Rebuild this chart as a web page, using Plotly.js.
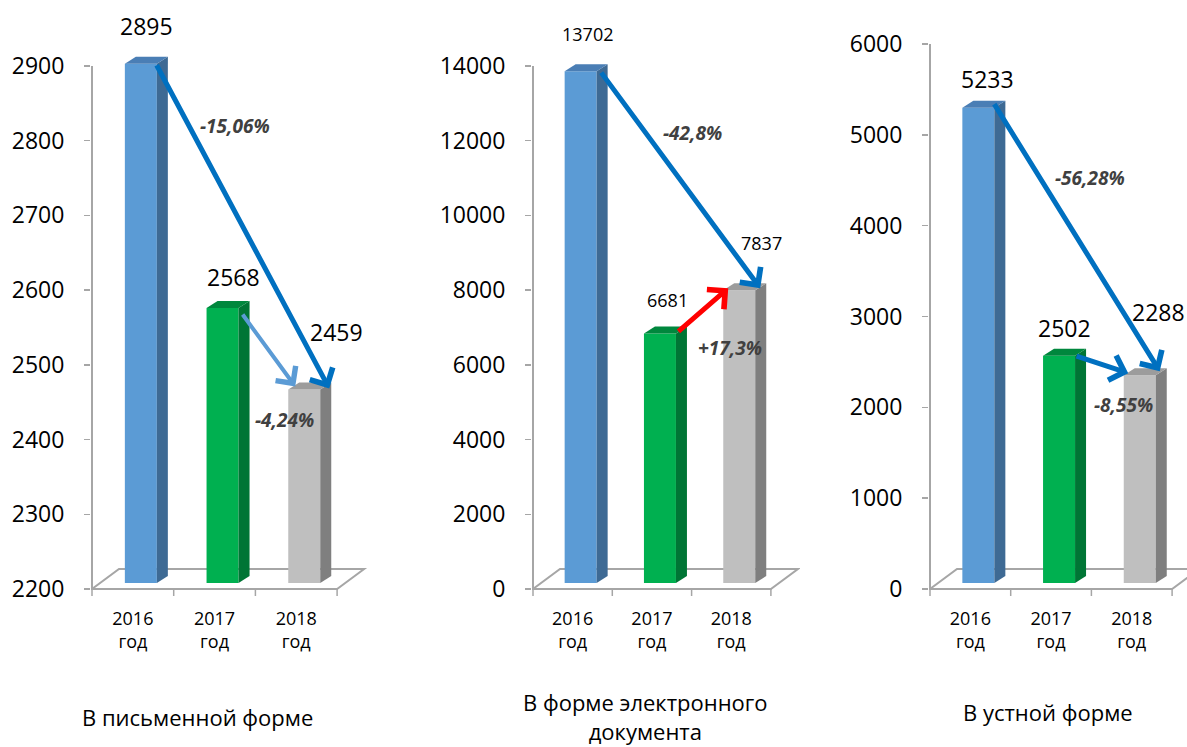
<!DOCTYPE html>
<html><head><meta charset="utf-8">
<script src="https://cdn.plot.ly/plotly-3.0.1.min.js"></script>
<style>html,body{margin:0;padding:0;background:#fff;}#chart{width:1187px;height:747px;}</style>
</head><body><div id="chart"></div>
<script>
// ---------- DATA ----------
const categoryLabels = ['2016<br>год', '2017<br>год', '2018<br>год'];
const panelTitles = ['В письменной форме', 'В форме электронного<br>документа', 'В устной форме'];
const writtenValues = [2895, 2568, 2459];
const electronicValues = [13702, 6681, 7837];
const oralValues = [5233, 2502, 2288];
const writtenTicks = [2200, 2300, 2400, 2500, 2600, 2700, 2800, 2900];
const electronicTicks = [0, 2000, 4000, 6000, 8000, 10000, 12000, 14000];
const oralTicks = [0, 1000, 2000, 3000, 4000, 5000, 6000];
const writtenChanges = ['-15,06%', '-4,24%'];
const electronicChanges = ['-42,8%', '+17,3%'];
const oralChanges = ['-56,28%', '-8,55%'];

// ---------- STYLE / GEOMETRY ----------
const W = 1187, H = 747;
const FONT = 'Open Sans, sans-serif';
const frontColors = ['#5B9BD5', '#00B050', '#BFBFBF'];
const sideColors = ['#3E6A94', '#007535', '#7F7F7F'];
const topColors = ['#4A7EB5', '#00873D', '#9C9C9C'];
const gridGray = '#A6A6A6';

const panels = [
  { values: writtenValues, ticks: writtenTicks, changes: writtenChanges, title: panelTitles[0],
    xLeft: 92, catW: 81.7, xRight: 368, yMinPx: 589, yMaxPx: 66, labelFont: 23,
    valOff: [[14, 44], [19, 37], [40, 63]],
    arrows: [{ from: 0, to: 2, t: [23, 6], h: [33, 7], color: '#0070C0', w: 5, size: 1 },
             { from: 1, to: 2, t: [27, 1], h: [-1, 9], color: '#5B9BD5', w: 4, size: 1.2 }],
    pct: [[235, 126], [284, 420]], titlePos: [197, 717] },
  { values: electronicValues, ticks: electronicTicks, changes: electronicChanges, title: panelTitles[1],
    xLeft: 533, catW: 79.3, xRight: 800, yMinPx: 589, yMaxPx: 66, labelFont: 18,
    valOff: [[15, 43], [15.5, 39], [30, 53]],
    arrows: [{ from: 0, to: 2, t: [27.5, 6], h: [29, 8], color: '#0070C0', w: 5, size: 1 },
             { from: 1, to: 2, t: [25, 6.7], h: [-3, 8], color: '#FF0000', w: 5, size: 1 }],
    pct: [[692, 132.5], [730, 348]], titlePos: [645, 716] },
  { values: oralValues, ticks: oralTicks, changes: oralChanges, title: panelTitles[2],
    xLeft: 930, catW: 80.7, xRight: 1187, yMinPx: 589, yMaxPx: 44, labelFont: 23,
    valOff: [[17, 35], [13, 34], [27, 69]],
    arrows: [{ from: 0, to: 2, t: [23, 11], h: [28, 10], color: '#0070C0', w: 5, size: 1 },
             { from: 1, to: 2, t: [24, 6], h: [-3.5, 8], color: '#0070C0', w: 5, size: 1 }],
    pct: [[1089.5, 177.5], [1123, 405]], titlePos: [1048, 712] }
];

const domTop = 20, domBot = 602;
const traces = [], shapes = [], annotations = [];
const layout = {
  width: W, height: H, margin: { l: 0, r: 0, t: 0, b: 0 },
  paper_bgcolor: '#fff', plot_bgcolor: 'rgba(0,0,0,0)',
  showlegend: false, hovermode: false, font: { family: FONT, color: '#000' },
  shapes: shapes, annotations: annotations
};

panels.forEach((p, k) => {
  const sfx = k === 0 ? '' : String(k + 1);
  const xa = 'x' + sfx, ya = 'y' + sfx;
  const tMin = p.ticks[0], tMax = p.ticks[p.ticks.length - 1];
  const upp = (tMax - tMin) / (p.yMinPx - p.yMaxPx);   // data units per pixel (y)
  const cu = 1 / p.catW;                                 // category units per pixel (x)
  const xr = [-0.5 - cu, -0.5 + (p.xRight - p.xLeft) * cu];
  const yr = [tMin - (domBot - p.yMinPx) * upp, tMax + (p.yMaxPx - domTop) * upp];

  layout['xaxis' + sfx] = {
    domain: [(p.xLeft - 1) / W, p.xRight / W], range: xr, anchor: ya, type: 'linear',
    tickvals: [0, 1, 2], ticktext: categoryLabels, ticks: '', showline: false,
    showgrid: false, zeroline: false, fixedrange: true,
    tickfont: { family: FONT, size: 18, color: '#000' }, ticklabelstandoff: 4
  };
  layout['yaxis' + sfx] = {
    domain: [1 - domBot / H, 1 - domTop / H], range: yr, anchor: xa,
    tickvals: p.ticks, ticktext: p.ticks.map(String), ticks: 'outside', ticklen: 6, tickwidth: 1.5,
    tickcolor: gridGray, showline: false, showgrid: false, zeroline: false, fixedrange: true,
    tickfont: { family: FONT, size: 23, color: '#000' }, ticklabelstandoff: 15
  };

  // front faces (bars)
  traces.push({
    type: 'bar', x: [0, 1, 2], y: p.values.map(v => v - tMin), base: tMin + 6 * upp,
    width: 32 * cu, offset: -8 * cu, xaxis: xa, yaxis: ya,
    marker: { color: frontColors, line: { width: 0 } }, hoverinfo: 'skip'
  });

  // floor
  const f0 = tMin, f1 = tMin + 20 * upp;
  shapes.push({ type: 'path', xref: xa, yref: ya, layer: 'below',
    path: `M${-0.5},${f0} L${2.5},${f0} L${2.5 + 27 * cu},${f1} L${-0.5 + 27 * cu},${f1} Z`,
    line: { color: gridGray, width: 2 }, fillcolor: 'rgba(0,0,0,0)' });
  // x tick marks at category boundaries
  [-0.5, 0.5, 1.5, 2.5].forEach(b => shapes.push({ type: 'line', xref: xa, yref: ya,
    x0: b, x1: b, y0: tMin, y1: tMin - 7 * upp, line: { color: gridGray, width: 1.5 } }));
  // y axis line
  shapes.push({ type: 'line', xref: xa, yref: ya, x0: -0.5, x1: -0.5, y0: tMin, y1: tMax,
    line: { color: gridGray, width: 2 } });

  // side & top faces
  p.values.forEach((v, i) => {
    const a = tMin + 6 * upp, b = v + 6 * upp, d = 7 * upp;
    const xr0 = i + 24 * cu, xr1 = i + 35 * cu;
    shapes.push({ type: 'path', xref: xa, yref: ya, layer: 'above', line: { width: 0 },
      fillcolor: sideColors[i],
      path: `M${xr0},${a} L${xr0},${b} L${xr1},${b + d} L${xr1},${a + d} Z` });
    shapes.push({ type: 'path', xref: xa, yref: ya, layer: 'above', line: { width: 0 },
      fillcolor: topColors[i],
      path: `M${i - 8 * cu},${b} L${xr0},${b} L${xr1},${b + d} L${i + 3 * cu},${b + d} Z` });
    // value label
    annotations.push({ xref: xa, yref: ya, x: i + p.valOff[i][0] * cu, y: v, yshift: p.valOff[i][1],
      xanchor: 'center', yanchor: 'middle', borderpad: 0,
      text: String(v), showarrow: false, font: { family: FONT, size: p.labelFont, color: '#000' } });
  });

  // arrows
  p.arrows.forEach(ar => annotations.push({
    xref: xa, yref: ya, axref: xa, ayref: ya,
    x: ar.to + ar.h[0] * cu, y: p.values[ar.to] + ar.h[1] * upp,
    ax: ar.from + ar.t[0] * cu, ay: p.values[ar.from] + ar.t[1] * upp,
    text: '', showarrow: true, arrowhead: 4, arrowwidth: ar.w, arrowsize: ar.size,
    arrowcolor: ar.color, standoff: 0, startstandoff: 0
  }));

  // percent change labels
  p.changes.forEach((c, j) => annotations.push({
    xref: 'paper', yref: 'paper', x: p.pct[j][0] / W, y: 1 - p.pct[j][1] / H,
    xanchor: 'center', yanchor: 'middle', text: c, showarrow: false,
    font: { family: FONT, size: 19, color: '#404040', weight: 700, style: 'italic' }
  }));

  // panel title
  annotations.push({ xref: 'paper', yref: 'paper', x: p.titlePos[0] / W, y: 1 - p.titlePos[1] / H,
    xanchor: 'center', yanchor: 'middle', borderpad: 0,
    text: p.title, showarrow: false, font: { family: FONT, size: 22, color: '#000' } });
});

Plotly.newPlot('chart', traces, layout, { displayModeBar: false, staticPlot: true });
</script>
</body></html>
